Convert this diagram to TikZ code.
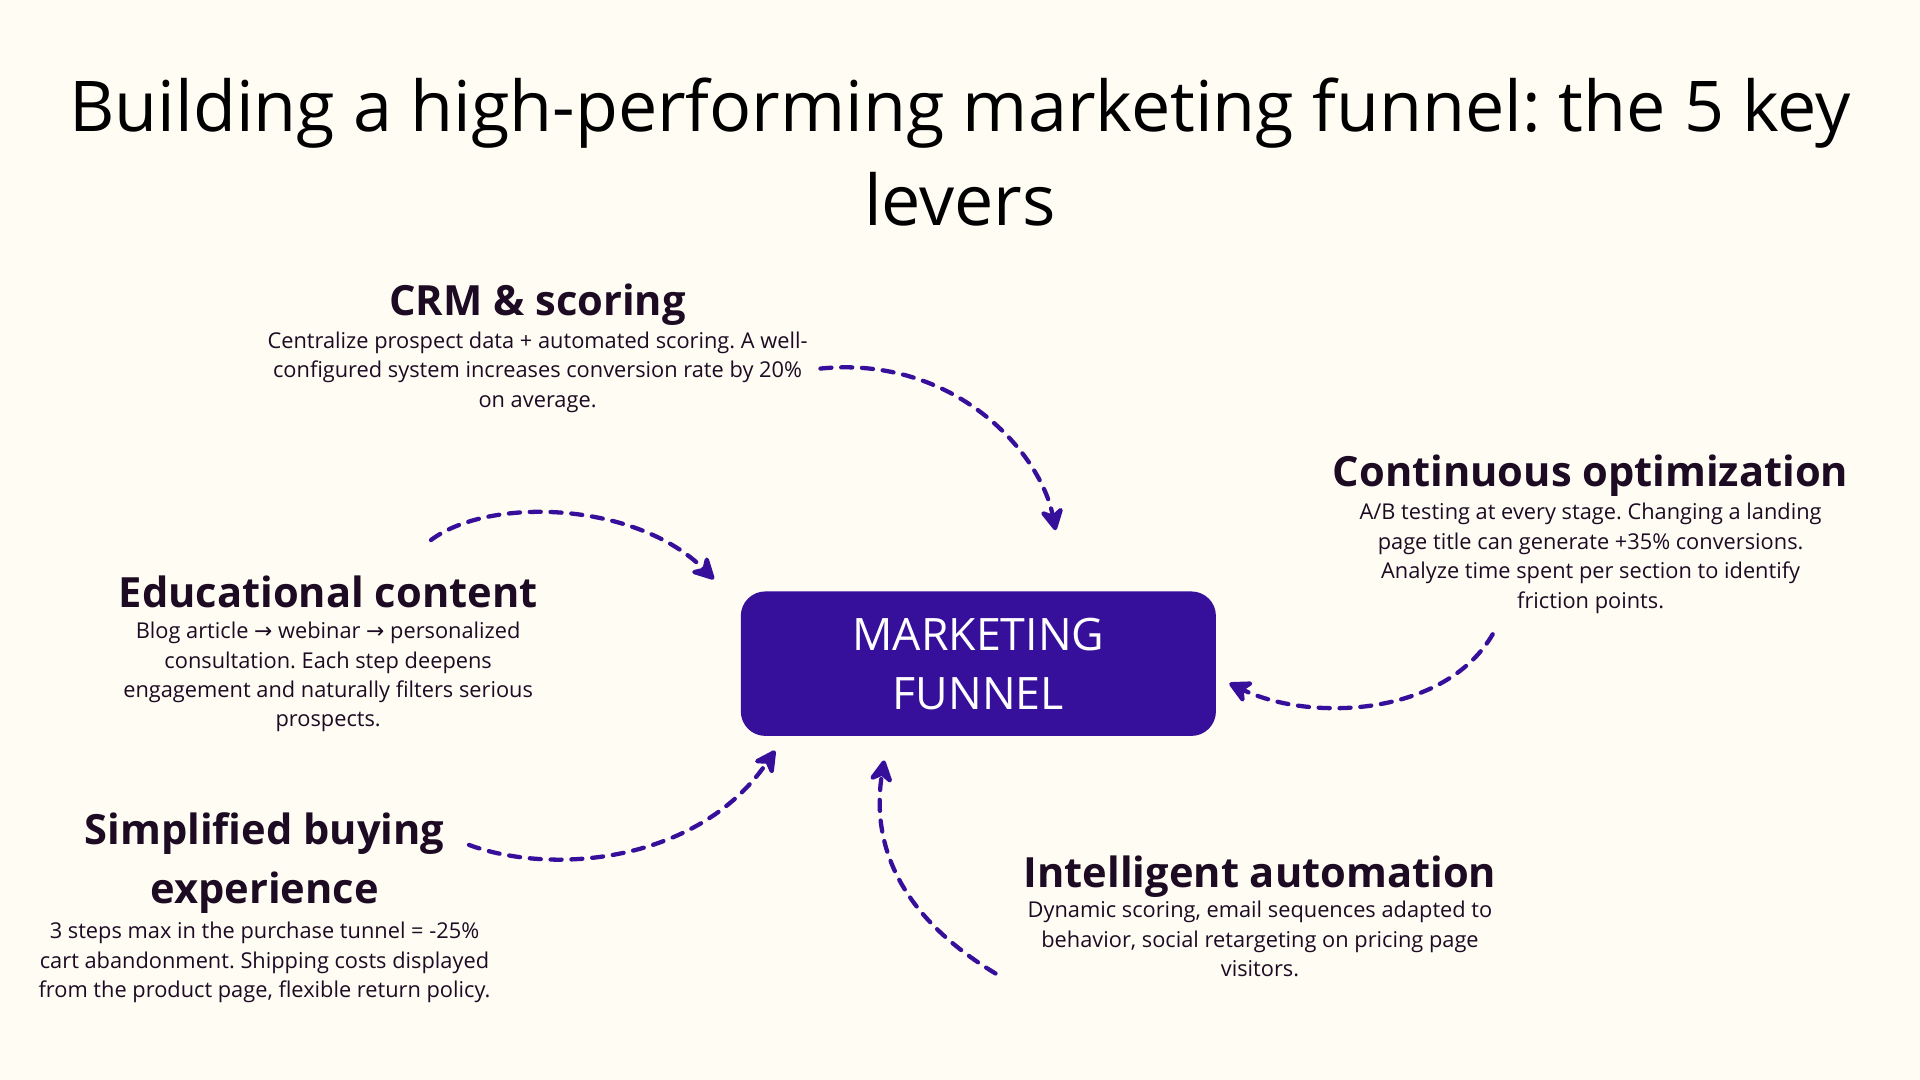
\documentclass[tikz,border=0pt]{standalone}
\usepackage{fontspec}
\setmainfont{Open Sans}
\newfontfamily\arrowfont{DejaVu Sans}
\usetikzlibrary{arrows.meta}
\definecolor{paper}{HTML}{FFFCF4}
\definecolor{funnel}{HTML}{360F9A}
\definecolor{ink}{HTML}{1C0B22}
\newcommand{\ra}{{\arrowfont →}}
\frenchspacing

\begin{document}
\begin{tikzpicture}[x = 1pt, y = -1pt,
  lever/.style = {inner sep = 0, text = ink, font = \fontsize{34}{48}\selectfont\bfseries, align = center},
  blurb/.style = {inner sep = 0, text = ink, font = \fontsize{17.8}{24}\selectfont, align = center},
  link/.style = {funnel, line width = 3.5pt, line cap = round, dash pattern = on 9pt off 8pt,
    -{Stealth[length = 22pt, width = 23pt, inset = 7pt, round]}}]
\fill[paper] (0, 0) rectangle (1568, 882);

\node[inner sep = 0, text = black, font = \fontsize{57.2}{77}\selectfont, align = center] (title) at (784, 124)
  {Building a high-performing marketing funnel: the 5 key\\levers};

\node[fill = funnel, rounded corners = 20pt, minimum width = 388pt, minimum height = 118pt,
  text = white, font = \fontsize{36.5}{48}\selectfont, align = center] (box) at (799, 542) {MARKETING\\FUNNEL};

\node[lever, anchor = base] (crm) at (439, 258) {CRM \& scoring};
\node[blurb] (crm text) at (439, 304)
  {Centralize prospect data + automated scoring. A well-\\configured system increases conversion rate by 20\%\\on average.};

\node[lever, anchor = base] (opt) at (1299, 397) {Continuous optimization};
\node[blurb] (opt text) at (1299, 456)
  {A/B testing at every stage. Changing a landing\\page title can generate +35\% conversions.\\Analyze time spent per section to identify\\friction points.};

\node[lever, anchor = base] (edu) at (268, 496) {Educational content};
\node[blurb] (edu text) at (268, 553)
  {Blog article \ra{} webinar \ra{} personalized\\consultation. Each step deepens\\engagement and naturally filters serious\\prospects.};

\node[lever] (buy) at (216, 705) {Simplified buying\\experience};
\node[blurb] (buy text) at (216, 786)
  {3 steps max in the purchase tunnel = -25\%\\cart abandonment. Shipping costs displayed\\from the product page, flexible return policy.};

\node[lever, anchor = base] (auto) at (1029, 725) {Intelligent automation};
\node[blurb] (auto text) at (1029, 767)
  {Dynamic scoring, email sequences adapted to\\behavior, social retargeting on pricing page\\visitors.};

\coordinate (crm out) at (670, 301);
\coordinate (crm in) at (862, 433);
\coordinate (edu out) at (352, 441);
\coordinate (edu in) at (583, 473);
\coordinate (opt out) at (1219, 518);
\coordinate (opt in) at (1004, 558);
\coordinate (buy out) at (383, 690);
\coordinate (buy in) at (633, 613);
\coordinate (auto out) at (813, 795);
\coordinate (auto in) at (722, 621);

\draw[link] (crm out) .. controls (780, 290) and (850, 370) .. (crm in);
\draw[link] (edu out) .. controls (400, 405) and (520, 410) .. (edu in);
\draw[link] (opt out) .. controls (1180, 585) and (1070, 590) .. (opt in);
\draw[link] (buy out) .. controls (450, 715) and (570, 705) .. (buy in);
\draw[link] (auto out) .. controls (730, 745) and (712, 685) .. (auto in);
\end{tikzpicture}
\end{document}
